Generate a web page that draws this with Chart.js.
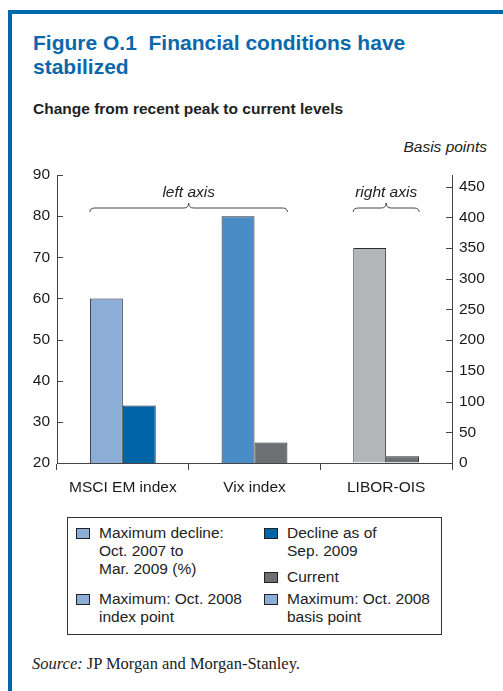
<!DOCTYPE html>
<html>
<head>
<meta charset="utf-8">
<script src="https://cdn.jsdelivr.net/npm/chart.js@4"></script>
<style>
  html, body { margin: 0; padding: 0; background: #fff; }
  body { width: 503px; height: 691px; position: relative; overflow: hidden; font-family: "Liberation Sans", Arial, sans-serif; color: #1a1a1a; }
  .frameTop { position: absolute; left: 8px; top: 10px; width: 495px; height: 4px; background: #0068ad; }
  .frameLeft { position: absolute; left: 8px; top: 10px; width: 4px; height: 681px; background: #0068ad; }
  .title { position: absolute; left: 33px; top: 31px; font-weight: bold; font-size: 21px; line-height: 24px; color: #0a68ab; }
  .subtitle { position: absolute; left: 33px; top: 100px; font-weight: bold; font-size: 15.5px; color: #222; }
  .unit { position: absolute; right: 16px; top: 138px; font-style: italic; font-size: 15.5px; color: #222; }
  #wrap { position: absolute; left: 0; top: 150px; width: 503px; height: 350px; }
  .legend { position: absolute; left: 67px; top: 517px; width: 373px; height: 116px; border: 1.5px solid #333; font-size: 15.5px; line-height: 18px; color: #222; }
  .item { position: absolute; }
  .item .sw { position: absolute; left: 0; top: 4px; width: 12px; height: 9px; border: 1px solid #222; }
  .item .tx { position: absolute; left: 23px; top: 0; white-space: nowrap; }
  .source { position: absolute; left: 32px; top: 654px; font-family: "Liberation Serif", "Times New Roman", serif; font-size: 16.5px; color: #222; }
</style>
</head>
<body>
<div class="frameTop"></div>
<div class="frameLeft"></div>
<div class="title">Figure O.1&nbsp; Financial conditions have<br>stabilized</div>
<div class="subtitle">Change from recent peak to current levels</div>
<div class="unit">Basis points</div>
<div id="wrap"><canvas id="chart"></canvas></div>
<div class="legend" id="legend"></div>
<div class="source"><i>Source:</i> JP Morgan and Morgan-Stanley.</div>
<script>
var categories = ['MSCI EM index', 'Vix index', 'LIBOR-OIS'];
// left axis (percent / index points)
var peakLeft = [60, 80, null];
var currentLeft = [34, 25, null];
// right axis (basis points)
var peakRight = [null, null, 350];
var currentRight = [null, null, 11];

var leftMin = 20, leftMax = 90, leftStep = 10;
var rightMin = 0, rightMax = 469;
var rightTicks = [0, 50, 100, 150, 200, 250, 300, 350, 400, 450];

var lightBlue = '#8badd6';
var midBlue = '#4a8cc5';
var darkBlue = '#0065a6';
var darkGray = '#6e6f73';
var lightGray = '#b3b5b8';

var legendItems = [
    { x: 8, y: 6, color: lightBlue, lines: ['Maximum decline:', 'Oct. 2007 to', 'Mar. 2009 (%)'] },
    { x: 196, y: 6, color: darkBlue, lines: ['Decline as of', 'Sep. 2009'] },
    { x: 196, y: 50, color: darkGray, lines: ['Current'] },
    { x: 8, y: 72, color: lightBlue, lines: ['Maximum: Oct. 2008', 'index point'] },
    { x: 196, y: 72, color: lightBlue, lines: ['Maximum: Oct. 2008', 'basis point'] }
];

var legendEl = document.getElementById('legend');
legendItems.forEach(function(it) {
    var d = document.createElement('div');
    d.className = 'item';
    d.style.left = it.x + 'px';
    d.style.top = it.y + 'px';
    d.innerHTML = '<div class="sw" style="background:' + it.color + '"></div><div class="tx">' + it.lines.join('<br>') + '</div>';
    legendEl.appendChild(d);
});

function drawBrace(ctx, x1, x2, yEnd, yLine, yPeak) {
    var mid = (x1 + x2) / 2, r = 5;
    ctx.beginPath();
    ctx.moveTo(x1, yEnd);
    ctx.quadraticCurveTo(x1, yLine, x1 + r, yLine);
    ctx.lineTo(mid - r, yLine);
    ctx.quadraticCurveTo(mid, yLine, mid, yPeak);
    ctx.quadraticCurveTo(mid, yLine, mid + r, yLine);
    ctx.lineTo(x2 - r, yLine);
    ctx.quadraticCurveTo(x2, yLine, x2, yEnd);
    ctx.stroke();
}

var extras = {
    id: 'extras',
    afterDraw: function(chart) {
        var ctx = chart.ctx;
        var area = chart.chartArea;
        ctx.save();
        ctx.strokeStyle = '#444';
        ctx.lineWidth = 1;
        // inner tick marks
        var yl = chart.scales.y;
        yl.ticks.forEach(function(t) {
            var y = Math.round(yl.getPixelForValue(t.value)) + 0.5;
            ctx.beginPath(); ctx.moveTo(area.left, y); ctx.lineTo(area.left + 6, y); ctx.stroke();
        });
        var yr = chart.scales.y2;
        yr.ticks.forEach(function(t) {
            var y = Math.round(yr.getPixelForValue(t.value)) + 0.5;
            ctx.beginPath(); ctx.moveTo(area.right - 6, y); ctx.lineTo(area.right, y); ctx.stroke();
        });
        // braces
        var b0 = chart.getDatasetMeta(0).data[0];
        var b1 = chart.getDatasetMeta(1).data[1];
        var b2 = chart.getDatasetMeta(2).data[2];
        var b3 = chart.getDatasetMeta(3).data[2];
        var yEnd = area.top + 37, yLine = area.top + 33, yPeak = area.top + 28;
        var lx1 = b0.x - b0.width / 2, lx2 = b1.x + b1.width / 2;
        var rx1 = b2.x - b2.width / 2, rx2 = b3.x + b3.width / 2;
        drawBrace(ctx, lx1, lx2, yEnd, yLine, yPeak);
        drawBrace(ctx, rx1, rx2, yEnd, yLine, yPeak);
        ctx.fillStyle = '#222';
        ctx.font = 'italic 15.5px "Liberation Sans", Arial, sans-serif';
        ctx.textAlign = 'center';
        ctx.textBaseline = 'middle';
        ctx.fillText('left axis', (lx1 + lx2) / 2, area.top + 18);
        ctx.fillText('right axis', (rx1 + rx2) / 2, area.top + 18);
        ctx.restore();
    }
};

var tickFont = { family: '"Liberation Sans", Arial, sans-serif', size: 15.5 };

window.onload = function() {
    var ctx = document.getElementById('chart').getContext('2d');
    window.conditionsChart = new Chart(ctx, {
        type: 'bar',
        data: {
            labels: categories,
            datasets: [{
                label: 'Maximum',
                data: peakLeft,
                yAxisID: 'y',
                backgroundColor: [lightBlue, midBlue, lightGray]
            }, {
                label: 'Current',
                data: currentLeft,
                yAxisID: 'y',
                backgroundColor: [darkBlue, darkGray, darkGray]
            }, {
                label: 'Maximum (bp)',
                data: peakRight,
                yAxisID: 'y2',
                backgroundColor: lightGray
            }, {
                label: 'Current (bp)',
                data: currentRight,
                yAxisID: 'y2',
                backgroundColor: darkGray
            }]
        },
        options: {
            responsive: true,
            maintainAspectRatio: false,
            animation: false,
            layout: { padding: { top: 25, left: 0, right: 0, bottom: 0 } },
            datasets: {
                bar: {
                    skipNull: true,
                    categoryPercentage: 0.5,
                    barPercentage: 1.0,
                    borderColor: '#2a2a2a',
                    borderWidth: 1
                }
            },
            plugins: {
                legend: { display: false },
                tooltip: { enabled: false }
            },
            scales: {
                x: {
                    grid: { offset: true, drawOnChartArea: false, drawTicks: true, tickLength: 7, color: '#444' },
                    border: { display: true, color: '#444', width: 1 },
                    ticks: { font: tickFont, color: '#1a1a1a', padding: 8 },
                    afterFit: function(scale) { scale.height = 37; }
                },
                y: {
                    position: 'left',
                    min: leftMin,
                    max: leftMax,
                    grid: { drawOnChartArea: false, drawTicks: false },
                    border: { display: true, color: '#444', width: 1 },
                    ticks: { stepSize: leftStep, font: tickFont, color: '#1a1a1a', padding: 7 },
                    afterFit: function(scale) { scale.width = 57; }
                },
                y2: {
                    position: 'right',
                    min: rightMin,
                    max: rightMax,
                    grid: { drawOnChartArea: false, drawTicks: false },
                    border: { display: true, color: '#444', width: 1 },
                    ticks: { font: tickFont, color: '#1a1a1a', padding: 7, autoSkip: false },
                    afterBuildTicks: function(scale) {
                        scale.ticks = rightTicks.map(function(v) { return { value: v }; });
                    },
                    afterFit: function(scale) { scale.width = 51; }
                }
            }
        },
        plugins: [extras]
    });
};
</script>
</body>
</html>
